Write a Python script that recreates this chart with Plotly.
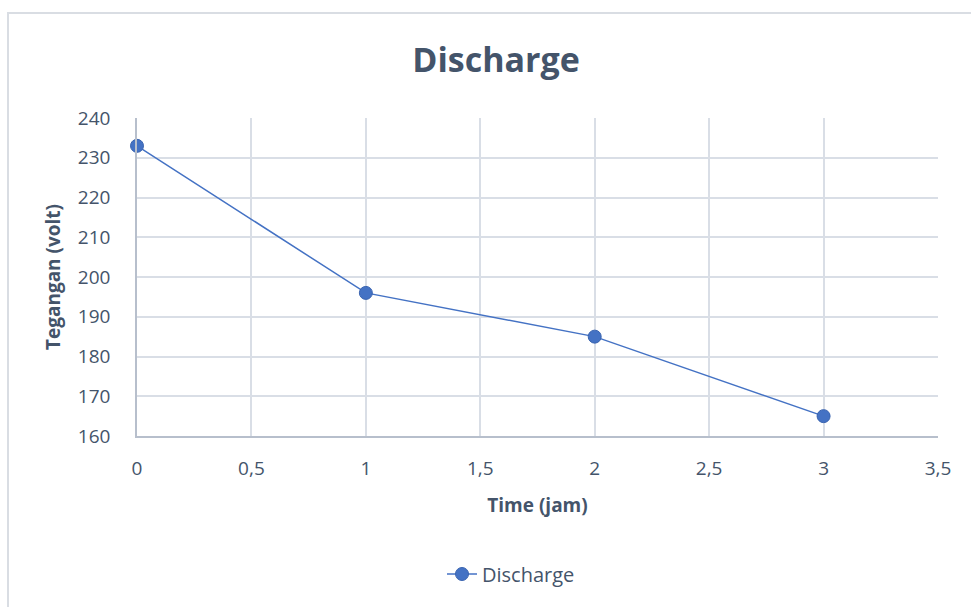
import plotly.graph_objects as go

# Discharge curve: battery voltage over time
time_jam = [0, 1, 2, 3]
tegangan_volt = [233, 196, 185, 165]
x_ticks = [0, 0.5, 1, 1.5, 2, 2.5, 3, 3.5]
y_ticks = [160, 170, 180, 190, 200, 210, 220, 230, 240]

W, H = 971, 607
ML, MR, MT, MB = 137, 33, 118, 171
pw, ph = W - ML - MR, H - MT - MB

text_col = "#44546a"
grid_col = "#d9dee6"
axis_col = "#b7bfcc"
font_fam = "Open Sans, Noto Sans, sans-serif"

fig = go.Figure()
fig.add_trace(go.Scatter(
    x=time_jam, y=tegangan_volt, mode="lines+markers", name="Discharge",
    line=dict(color="#4472c4", width=1.5),
    marker=dict(size=13, color="#4472c4", line=dict(color="#3a64b0", width=1)),
    cliponaxis=False,
))

# outer chart frame
fig.add_shape(type="rect", xref="paper", yref="paper",
              x0=(8 - ML) / pw, x1=(W + 5 - ML) / pw,
              y0=-(H + 5 - MT - ph) / ph, y1=(H - 13 - MB) / ph,
              line=dict(color="#d9dde3", width=2), layer="below")

fig.update_layout(
    width=W, height=H,
    margin=dict(l=ML, r=MR, t=MT, b=MB),
    paper_bgcolor="white", plot_bgcolor="white",
    separators=",.",
    font=dict(family=font_fam, color=text_col),
    title=dict(text="<b>Discharge</b>", x=496 / W, xanchor="center",
               y=1 - 60 / H, yanchor="middle",
               font=dict(size=34, color=text_col, family=font_fam)),
    showlegend=True,
    legend=dict(orientation="h", x=(511 - ML) / pw, xanchor="center",
                y=-(574 - MT - ph) / ph, yanchor="middle",
                font=dict(size=20, color=text_col)),
    xaxis=dict(range=[0, 3.5], tickvals=x_ticks, tickformat=",.1~f",
               showgrid=True, gridcolor=grid_col, gridwidth=1.5,
               showline=True, linecolor=axis_col, linewidth=1.5,
               zeroline=False, ticks="", ticklabelstandoff=14,
               tickfont=dict(size=19, color=text_col),
               title=dict(text="<b>Time (jam)</b>", standoff=19,
                          font=dict(size=19, color=text_col))),
    yaxis=dict(range=[160, 240], tickvals=y_ticks,
               showgrid=True, gridcolor=grid_col, gridwidth=1.5,
               showline=True, linecolor=axis_col, linewidth=1.5,
               zeroline=False, ticks="", ticklabelstandoff=21,
               tickfont=dict(size=19, color=text_col),
               title=dict(text="<b>Tegangan (volt)</b>", standoff=12,
                          font=dict(size=19, color=text_col))),
)

fig.write_html("out.html")
